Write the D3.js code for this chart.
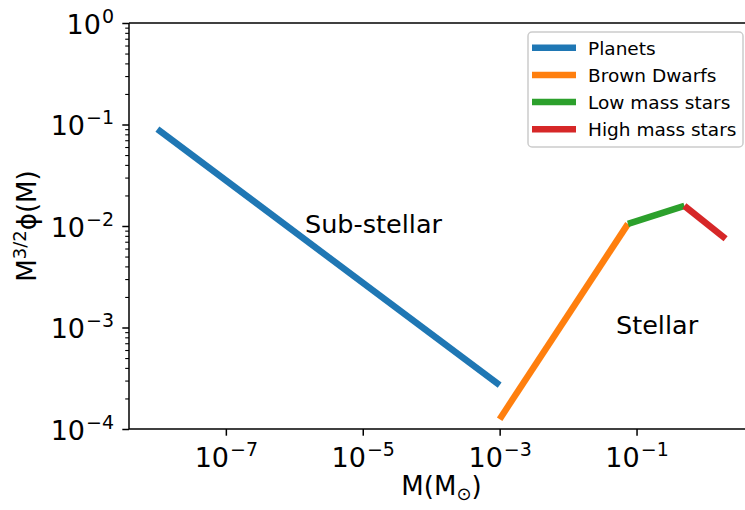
<!DOCTYPE html>
<html>
<head>
<meta charset="utf-8">
<script src="https://cdn.jsdelivr.net/npm/d3@7"></script>
<style>
  body { margin: 0; background: #fff; }
  text { font-family: "DejaVu Sans", sans-serif; fill: #000; }
</style>
</head>
<body>
<div id="chart"></div>
<script>
// Valores
const planetMass = [1e-8, 1e-3];
const planetPhi = [0.09, 2.7e-4];
const dwarfMass = [1e-3, 0.075];
const dwarfPhi = [1.25e-4, 0.0105];
const lowMass = [0.075, 0.5];
const lowPhi = [0.0105, 0.0158];
const highMass = [0.5, 2];
const highPhi = [0.0158, 0.0075];

const seriesNames = ['Planets', 'Brown Dwarfs', 'Low mass stars', 'High mass stars'];
const seriesColors = ['#1f77b4', '#ff7f0e', '#2ca02c', '#d62728'];
const xTickExp = [-7, -5, -3, -1];
const yTickExp = [-4, -3, -2, -1, 0];

const series = [
    { name: seriesNames[0], color: seriesColors[0], m: planetMass, p: planetPhi },
    { name: seriesNames[1], color: seriesColors[1], m: dwarfMass, p: dwarfPhi },
    { name: seriesNames[2], color: seriesColors[2], m: lowMass, p: lowPhi },
    { name: seriesNames[3], color: seriesColors[3], m: highMass, p: highPhi }
];

const width = 745, height = 510;
const plotLeft = 129, plotRight = 754, plotTop = 23, plotBottom = 429;

const svg = d3.select('#chart').append('svg')
    .attr('width', width)
    .attr('height', height);

// margen del 5% en escala log, como matplotlib
const allMass = [].concat(planetMass, dwarfMass, lowMass, highMass);
const lo = Math.log10(d3.min(allMass)), hi = Math.log10(d3.max(allMass));
const pad = (hi - lo) * 0.05;

const x = d3.scaleLog()
    .domain([Math.pow(10, lo - pad), Math.pow(10, hi + pad)])
    .range([plotLeft, plotRight]);

const y = d3.scaleLog()
    .domain([1e-4, 1])
    .range([plotBottom, plotTop]);

// ticks menores del eje y
const yMinor = [];
for (let e = -4; e < 0; e++) {
    for (let k = 2; k <= 9; k++) yMinor.push(k * Math.pow(10, e));
}

svg.append('g')
    .attr('transform', `translate(${plotLeft},0)`)
    .call(d3.axisLeft(y).tickValues(yMinor).tickSize(3.8).tickFormat(''))
    .call(g => g.select('.domain').remove())
    .call(g => g.selectAll('line').attr('stroke', '#000').attr('stroke-width', 1.1));

function powLabel(sel) {
    sel.text('').each(function (d) {
        const t = d3.select(this);
        t.append('tspan').text('10');
        t.append('tspan').attr('dy', -11).attr('dx', 1).attr('font-size', 19)
            .text(String(Math.round(Math.log10(d))).replace('-', '\u2212'));
    });
}

// eje y mayor
const yAxis = svg.append('g')
    .attr('transform', `translate(${plotLeft},0)`)
    .call(d3.axisLeft(y).tickValues(yTickExp.map(e => Math.pow(10, e))).tickSize(6.7))
    .call(g => g.select('.domain').remove())
    .call(g => g.selectAll('line').attr('stroke', '#000').attr('stroke-width', 1.5));

yAxis.selectAll('text')
    .attr('font-size', 27)
    .attr('dy', null)
    .attr('y', 10)
    .attr('x', -15)
    .attr('text-anchor', 'end')
    .call(powLabel);

// eje x
const xAxis = svg.append('g')
    .attr('transform', `translate(0,${plotBottom})`)
    .call(d3.axisBottom(x).tickValues(xTickExp.map(e => Math.pow(10, e))).tickSize(6.7))
    .call(g => g.select('.domain').remove())
    .call(g => g.selectAll('line').attr('stroke', '#000').attr('stroke-width', 1.5));

xAxis.selectAll('text')
    .attr('font-size', 27)
    .attr('dy', null)
    .attr('y', 38)
    .attr('text-anchor', 'middle')
    .call(powLabel);

// marco
const frame = svg.append('g').attr('stroke', '#000').attr('stroke-width', 1.5);
frame.append('line').attr('x1', plotLeft).attr('x2', plotLeft).attr('y1', plotTop).attr('y2', plotBottom);
frame.append('line').attr('x1', plotLeft).attr('x2', plotRight).attr('y1', plotBottom).attr('y2', plotBottom);
frame.append('line').attr('x1', plotLeft).attr('x2', plotRight).attr('y1', plotTop).attr('y2', plotTop);
frame.append('line').attr('x1', plotRight).attr('x2', plotRight).attr('y1', plotTop).attr('y2', plotBottom);

// lineas
const line = d3.line()
    .x(d => x(d[0]))
    .y(d => y(d[1]));

svg.append('g').selectAll('path')
    .data(series)
    .enter().append('path')
    .attr('d', s => line(s.m.map((v, i) => [v, s.p[i]])))
    .attr('fill', 'none')
    .attr('stroke', s => s.color)
    .attr('stroke-width', 6.5);

// anotaciones
svg.append('text').attr('x', 305).attr('y', 233).attr('font-size', 25.5).text('Sub-stellar');
svg.append('text').attr('x', 616).attr('y', 334).attr('font-size', 25.5).text('Stellar');

// etiquetas de ejes
const xl = svg.append('text')
    .attr('x', (plotLeft + plotRight) / 2)
    .attr('y', 495)
    .attr('text-anchor', 'middle')
    .attr('font-size', 26);
xl.append('tspan').text('M(M');
xl.append('tspan').attr('font-size', 18).attr('dy', 5).text('\u2299');
xl.append('tspan').attr('dy', -5).text(')');

const yl = svg.append('text')
    .attr('transform', `translate(36,${(plotTop + plotBottom) / 2}) rotate(-90)`)
    .attr('text-anchor', 'middle')
    .attr('font-size', 26);
yl.append('tspan').text('M');
yl.append('tspan').attr('font-size', 18).attr('dy', -10).text('3/2');
yl.append('tspan').attr('dy', 10).text('\u03d5(M)');

// leyenda
const legend = svg.append('g');
legend.append('rect')
    .attr('x', 528).attr('y', 32)
    .attr('width', 215).attr('height', 115)
    .attr('rx', 4)
    .attr('fill', '#fff').attr('fill-opacity', 0.8)
    .attr('stroke', '#ccc').attr('stroke-width', 1.5);

const rows = legend.selectAll('.row')
    .data(series)
    .enter().append('g')
    .attr('class', 'row')
    .attr('transform', (d, i) => `translate(0,${47.7 + i * 27.2})`);

rows.append('line')
    .attr('x1', 532).attr('x2', 576)
    .attr('stroke', d => d.color)
    .attr('stroke-width', 6.5);

rows.append('text')
    .attr('x', 588)
    .attr('y', 7)
    .attr('font-size', 18.5)
    .text(d => d.name);
</script>
</body>
</html>
